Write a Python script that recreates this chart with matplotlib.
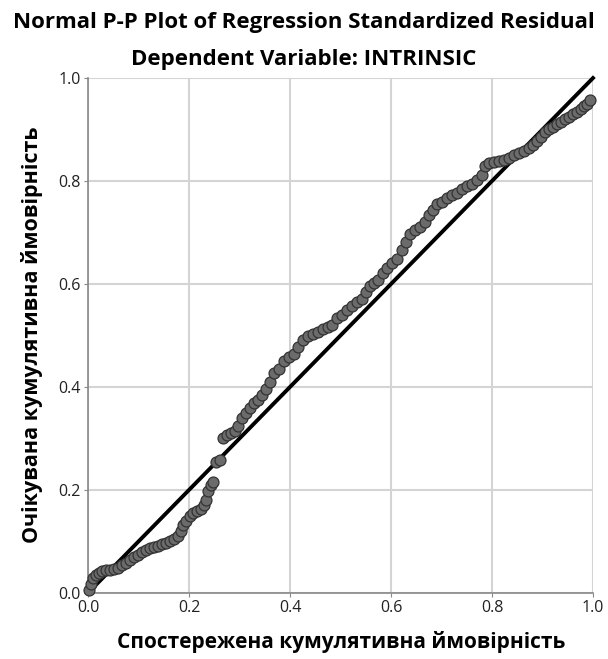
import matplotlib
matplotlib.use("Agg")
import matplotlib.pyplot as plt

# Observed vs expected cumulative probability of the standardized residuals
observed = [
    0.002, 0.006, 0.010, 0.016, 0.022, 0.028, 0.036, 0.044, 0.051, 0.059,
    0.067, 0.075, 0.083, 0.091, 0.099, 0.107, 0.115, 0.123, 0.131, 0.139,
    0.147, 0.154, 0.162, 0.170, 0.178, 0.184, 0.188, 0.194, 0.202, 0.208,
    0.216, 0.224, 0.230, 0.234, 0.238, 0.244, 0.248, 0.253, 0.261, 0.267,
    0.275, 0.283, 0.291, 0.297, 0.305, 0.313, 0.321, 0.329, 0.337, 0.345,
    0.352, 0.360, 0.368, 0.378, 0.388, 0.398, 0.408, 0.416, 0.426, 0.436,
    0.446, 0.455, 0.465, 0.475, 0.483, 0.493, 0.503, 0.513, 0.523, 0.533,
    0.543, 0.550, 0.558, 0.566, 0.574, 0.584, 0.592, 0.602, 0.612, 0.622,
    0.630, 0.638, 0.648, 0.657, 0.667, 0.675, 0.683, 0.691, 0.701, 0.711,
    0.721, 0.731, 0.741, 0.750, 0.760, 0.770, 0.780, 0.786, 0.794, 0.804,
    0.814, 0.824, 0.834, 0.844, 0.853, 0.863, 0.873, 0.881, 0.889, 0.897,
    0.905, 0.913, 0.921, 0.929, 0.937, 0.945, 0.952, 0.960, 0.968, 0.976,
    0.982, 0.988, 0.994,
]
expected = [
    0.006, 0.017, 0.029, 0.035, 0.039, 0.043, 0.045, 0.045, 0.047, 0.049,
    0.054, 0.058, 0.064, 0.070, 0.074, 0.080, 0.083, 0.087, 0.089, 0.091,
    0.095, 0.097, 0.101, 0.105, 0.111, 0.120, 0.132, 0.140, 0.150, 0.155,
    0.159, 0.163, 0.171, 0.181, 0.198, 0.210, 0.216, 0.254, 0.258, 0.301,
    0.307, 0.311, 0.315, 0.324, 0.340, 0.350, 0.359, 0.369, 0.375, 0.384,
    0.396, 0.410, 0.427, 0.435, 0.450, 0.458, 0.464, 0.478, 0.491, 0.499,
    0.503, 0.507, 0.513, 0.517, 0.520, 0.534, 0.540, 0.550, 0.557, 0.565,
    0.571, 0.584, 0.596, 0.602, 0.608, 0.621, 0.631, 0.641, 0.649, 0.666,
    0.682, 0.697, 0.705, 0.711, 0.720, 0.734, 0.744, 0.755, 0.759, 0.767,
    0.773, 0.777, 0.784, 0.790, 0.794, 0.802, 0.812, 0.829, 0.835, 0.837,
    0.839, 0.841, 0.845, 0.850, 0.854, 0.858, 0.864, 0.870, 0.878, 0.885,
    0.895, 0.901, 0.905, 0.911, 0.915, 0.920, 0.924, 0.930, 0.934, 0.940,
    0.946, 0.950, 0.957,
]
ticks = [0.0, 0.2, 0.4, 0.6, 0.8, 1.0]
tick_labels = ["0.0", "0.2", "0.4", "0.6", "0.8", "1.0"]

title = "Normal P-P Plot of Regression Standardized Residual"
subtitle = "Dependent Variable: INTRINSIC"
xlabel = "Спостережена кумулятивна ймовірність"
ylabel = "Очікувана кумулятивна ймовірність"

plt.rcParams["font.family"] = ["Open Sans", "DejaVu Sans"]

fig = plt.figure(figsize=(6.08, 6.59), dpi=100)
ax = fig.add_axes([0.1447, 0.1002, 0.8306, 0.7814])

ax.set_xlim(0, 1)
ax.set_ylim(0, 1)
ax.set_xticks(ticks)
ax.set_xticklabels(tick_labels)
ax.set_yticks(ticks)
ax.set_yticklabels(tick_labels)
ax.grid(True, color="#d4d4d4", linewidth=1.5)
ax.set_axisbelow(True)

for side in ("top", "right"):
    ax.spines[side].set_visible(False)
for side in ("left", "bottom"):
    ax.spines[side].set_color("#888888")
    ax.spines[side].set_linewidth(1.2)
ax.tick_params(length=3, color="#888888", labelsize=11.5, labelcolor="#222222", pad=2)

# reference diagonal
ax.plot([0, 1], [0, 1], color="black", linewidth=2.8, zorder=3, clip_on=False)
ax.scatter(observed, expected, s=62, facecolor="#6b6b6b", edgecolor="#333333",
           linewidth=0.9, zorder=4, clip_on=False)

fig.text(0.5, 0.9666, title, ha="center", va="center", fontsize=16, fontweight="bold")
fig.text(0.5, 0.909, subtitle, ha="center", va="center", fontsize=16, fontweight="bold")
fig.text(0.561, 0.026, xlabel, ha="center", va="center", fontsize=15, fontweight="bold")
fig.text(0.053, 0.4917, ylabel, ha="center", va="center", rotation=90,
         fontsize=15.5, fontweight="bold")

fig.savefig("out.png", dpi=100)
